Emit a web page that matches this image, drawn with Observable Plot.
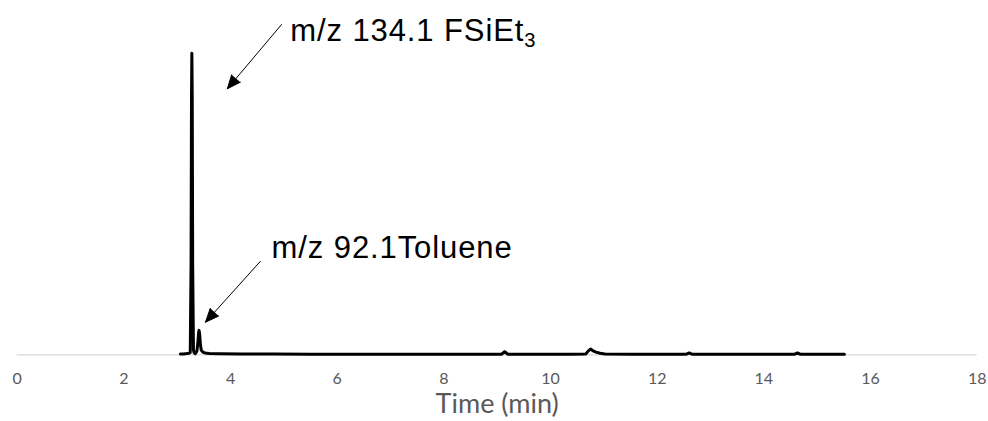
<!DOCTYPE html>
<html>
<head>
<meta charset="utf-8">
<script src="https://cdn.jsdelivr.net/npm/d3@7"></script>
<script src="https://cdn.jsdelivr.net/npm/@observablehq/plot@0.6"></script>
<style>
  html, body { margin: 0; padding: 0; background: #fff; }
  #chart { width: 988px; height: 421px; }
</style>
</head>
<body>
<div id="chart"></div>
<script>
// Chromatogram trace: retention time (min) and relative intensity
const times = [
  3.06, 3.12, 3.18, 3.22, 3.245, 3.26, 3.268, 3.275, 3.282, 3.29, 3.305, 3.32,
  3.34, 3.37, 3.39, 3.40, 3.41, 3.42, 3.435, 3.45, 3.48, 3.52, 3.6, 3.8,
  4.2, 4.8, 5.5, 6.2, 7.0, 7.8, 8.5, 9.08, 9.14, 9.2, 9.8, 10.4, 10.66,
  10.71, 10.75, 10.79, 10.85, 10.93, 11.02, 11.5, 12.1, 12.55, 12.6, 12.65,
  13.2, 13.9, 14.58, 14.63, 14.68, 15.1, 15.51
];
const intensity = [
  0.25, 0.3, 0.4, 0.5, 0.8, 30, 85, 100, 85, 30, 1.5, 0.6,
  0.4, 1.2, 4.5, 7.2, 8.1, 7, 3.5, 1.6, 0.9, 0.6, 0.45, 0.35,
  0.3, 0.25, 0.2, 0.2, 0.2, 0.2, 0.2, 0.2, 1.0, 0.2, 0.2, 0.2, 0.3,
  1.3, 1.9, 1.4, 0.9, 0.5, 0.25, 0.2, 0.2, 0.2, 0.6, 0.2,
  0.2, 0.2, 0.2, 0.6, 0.2, 0.2, 0.2
];

// X axis ticks
const tickValues = [0, 2, 4, 6, 8, 10, 12, 14, 16, 18];
const xLabel = "Time (min)";

// Annotations (text anchored in data coordinates)
const labels = ["m/z 134.1 FSiEt₃", "m/z 92.1Toluene"];
const labelTime = [5.12, 4.77];
const labelIntensity = [107.4, 35.3];

// Arrows (from label toward peak), in data coordinates
const arrowFromTime = [4.956, 4.56];
const arrowFromIntensity = [109.5, 31.0];
const arrowToTime = [3.94, 3.53];
const arrowToIntensity = [88.2, 10.8];

const trace = times.map((t, i) => ({time: t, value: intensity[i]}));
const notes = labels.map((l, i) => ({label: l, time: labelTime[i], value: labelIntensity[i]}));
const arrows = arrowFromTime.map((t, i) => ({
  x1: t, y1: arrowFromIntensity[i], x2: arrowToTime[i], y2: arrowToIntensity[i]
}));

const chart = Plot.plot({
  width: 988,
  height: 421,
  marginLeft: 16.7,
  marginRight: 11.3,
  marginTop: 52.7,
  marginBottom: 66.7,
  style: {background: "#fff", fontFamily: "Lato, 'Liberation Sans', sans-serif"},
  x: {domain: [0, 18]},
  y: {domain: [0, 100], axis: null},
  marks: [
    Plot.ruleY([0], {stroke: "#d9d9d9", strokeWidth: 1.2}),
    Plot.axisX({
      ticks: tickValues,
      tickSize: 0,
      tickPadding: 18,
      tickFormat: d => String(d),
      fontSize: 16,
      fill: "#595959",
      label: null
    }),
    Plot.text([xLabel], {
      frameAnchor: "bottom",
      dy: 50,
      fontSize: 27,
      fill: "#595959",
      lineAnchor: "middle"
    }),
    Plot.line(trace, {
      x: "time",
      y: "value",
      stroke: "black",
      strokeWidth: 3,
      strokeLinejoin: "round",
      strokeLinecap: "round"
    }),
    Plot.arrow(arrows, {
      x1: "x1", y1: "y1", x2: "x2", y2: "y2",
      stroke: "black",
      fill: "black",
      strokeWidth: 1,
      headLength: 22,
      headAngle: 46,
      strokeLinejoin: "miter"
    }),
    Plot.text(notes, {
      x: "time",
      y: "value",
      text: "label",
      textAnchor: "start",
      lineAnchor: "middle",
      fontSize: 31,
      fill: "black",
      fontFamily: "'Liberation Sans', Arial, sans-serif"
    })
  ]
});

document.getElementById("chart").appendChild(chart);

// Render subscript digits as real subscripts; slightly widen annotation text
d3.select(chart).selectAll("text").each(function() {
  const node = d3.select(this);
  const t = node.text();
  if (t.startsWith("m/z")) node.style("letter-spacing", "0.9px");
  if (t.includes("₃")) {
    const [before, after] = t.split("₃");
    node.text(before);
    node.append("tspan").attr("font-size", "65%").attr("dy", "0.3em").text("3");
    if (after) node.append("tspan").attr("dy", "-0.3em").text(after);
  }
});
</script>
</body>
</html>
